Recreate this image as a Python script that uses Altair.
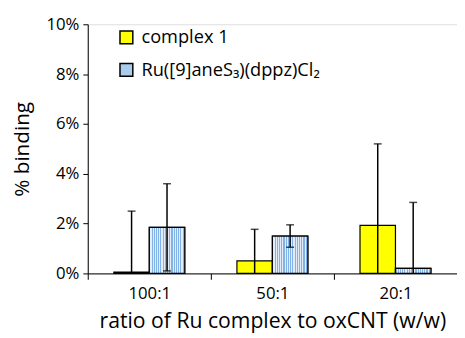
import altair as alt
import pandas as pd

categories = ["100:1", "50:1", "20:1"]
series = ["complex 1", "Ru([9]aneS₃)(dppz)Cl₂"]
complex1_vals = [0.05, 0.5, 1.93]
complex1_err = [2.45, 1.27, 3.27]
ru_vals = [1.85, 1.5, 0.2]
ru_err = [1.75, 0.45, 2.65]

rows = []
for i, c in enumerate(categories):
    for s, v, e in ((series[0], complex1_vals[i], complex1_err[i]), (series[1], ru_vals[i], ru_err[i])):
        rows.append({"ratio": c, "series": s, "value": v / 100, "hi": (v + e) / 100,
                     "lo": max(v - e, 0) / 100, "locap": (v - e) / 100 if v - e > 0 else None})
df = pd.DataFrame(rows)

FONT = "Open Sans"

x = alt.X("ratio:N", sort=categories,
          scale=alt.Scale(paddingInner=0, paddingOuter=0),
          axis=alt.Axis(title="ratio of Ru complex to oxCNT (w/w)", labelAngle=0,
                        tickBand="extent", tickSize=6, tickColor="black", domainColor="black",
                        labelFontSize=17, titleFontSize=21.5, labelColor="black", titleColor="black",
                        labelFont=FONT, titleFont=FONT, titleFontWeight="normal",
                        labelPadding=6, titlePadding=10))
xo = alt.XOffset("series:N", sort=series, scale=alt.Scale(paddingInner=0, paddingOuter=0.736))
y = alt.Y("value:Q", scale=alt.Scale(domain=[0, 0.10]),
          axis=alt.Axis(title="% binding", format=".0%", values=[0, 0.02, 0.04, 0.06, 0.08, 0.10],
                        grid=False, tickSize=5, tickColor="black", domainColor="black",
                        labelFontSize=17, titleFontSize=21, labelColor="black", titleColor="black",
                        labelFont=FONT, titleFont=FONT, titleFontWeight="normal",
                        labelPadding=4, titlePadding=14))

base = alt.Chart(df)

bars = base.mark_bar(stroke="black", strokeWidth=1.2).encode(
    x=x, xOffset=xo, y=y,
    color=alt.Color("series:N", sort=series,
                    scale=alt.Scale(domain=series, range=["#ffff00", "#a9cbee"]),
                    legend=alt.Legend(title=None, orient="none", legendX=30, legendY=4,
                                      symbolType="square", symbolSize=170, symbolStrokeColor="black",
                                      symbolStrokeWidth=1.5, labelFontSize=18.5, labelFont=FONT,
                                      labelColor="black", rowPadding=13, symbolOpacity=1,
                                      labelLimit=0, labelOffset=6)),
)

stops = []
n = 16
for k in range(n):
    a = k / n
    b = (k + 0.5) / n
    c = (k + 1) / n
    stops += [alt.GradientStop(offset=a, color="#82b2e6"), alt.GradientStop(offset=b, color="#82b2e6"),
              alt.GradientStop(offset=b, color="#e2edf9"), alt.GradientStop(offset=c, color="#e2edf9")]
grad = alt.LinearGradient(gradient="linear", stops=stops, x1=0, x2=1, y1=0, y2=0)

striped = base.transform_filter(alt.datum.series == series[1]).mark_bar(
    fill=grad, stroke="black", strokeWidth=1.2).encode(x=x, xOffset=xo, y=y)

rules = base.mark_rule(color="black", strokeWidth=1.5).encode(
    x=x, xOffset=xo, y=alt.Y("lo:Q"), y2="hi:Q")
caps_hi = base.mark_tick(color="black", orient="horizontal", size=8, thickness=1.5).encode(
    x=x, xOffset=xo, y=alt.Y("hi:Q"))
caps_lo = base.transform_filter("isValid(datum.locap)").mark_tick(
    color="black", orient="horizontal", size=8, thickness=1.5).encode(
    x=x, xOffset=xo, y=alt.Y("locap:Q"))

chart = alt.layer(bars, striped, rules, caps_hi, caps_lo).properties(
    width=375, height=253,
    autosize=alt.AutoSizeParams(type="none"),
    padding={"left": 81, "top": 14, "right": 0, "bottom": 60},
).configure_view(stroke=None).configure(background="white")

chart.save("out.html", embed_options={"renderer": "svg", "actions": False})
